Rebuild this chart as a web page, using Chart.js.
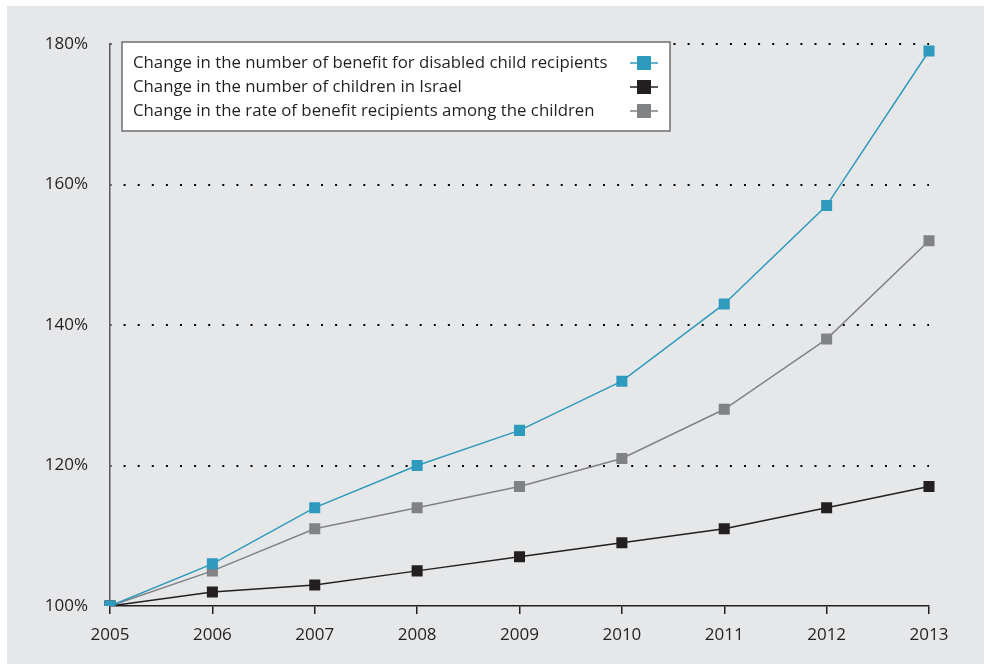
<!DOCTYPE html>
<html>
<head>
<meta charset="utf-8">
<script src="https://cdn.jsdelivr.net/npm/chart.js@4.4.1/dist/chart.umd.min.js"></script>
<style>
    html, body { margin: 0; padding: 0; background: #fff; }
    #wrap { width: 984px; height: 664px; }
</style>
</head>
<body>
<div id="wrap"><canvas id="growthChart" width="984" height="664"></canvas></div>
<script>
const years = ['2005', '2006', '2007', '2008', '2009', '2010', '2011', '2012', '2013'];

// index, 2005 = 100%
const disabledBenefit = [100, 106, 114, 120, 125, 132, 143, 157, 179];
const childrenCount = [100, 102, 103, 105, 107, 109, 111, 114, 117];
const recipientRate = [100, 105, 111, 114, 117, 121, 128, 138, 152];

const yTicks = [100, 120, 140, 160, 180];

const seriesNames = [
    'Change in the number of benefit for disabled child recipients',
    'Change in the number of children in Israel',
    'Change in the rate of benefit recipients among the children'
];

const BLUE = '#2e9abd';
const BLACK = '#231f20';
const GRAY = '#818285';
const FONT = '"Open Sans", "DejaVu Sans", sans-serif';

const panelBackground = {
    id: 'panelBackground',
    beforeDraw(chart) {
        const ctx = chart.ctx;
        ctx.save();
        ctx.fillStyle = '#ffffff';
        ctx.fillRect(0, 0, chart.width, chart.height);
        ctx.fillStyle = '#e6e7e9';
        ctx.fillRect(7, 6, chart.width - 7, chart.height - 6);
        ctx.restore();
    }
};

// legend box with the marker on the right side of each entry
const boxLegend = {
    id: 'boxLegend',
    afterDraw(chart) {
        const ctx = chart.ctx;
        const left = 122, top = 42, right = 670, bottom = 131;
        ctx.save();
        ctx.fillStyle = '#ffffff';
        ctx.fillRect(left, top, right - left, bottom - top);
        ctx.strokeStyle = '#6d6e71';
        ctx.lineWidth = 1.5;
        ctx.strokeRect(left, top, right - left, bottom - top);

        ctx.font = '16.8px ' + FONT;
        ctx.textBaseline = 'middle';
        ctx.textAlign = 'left';
        chart.data.datasets.forEach((ds, i) => {
            const y = 63 + i * 24;
            ctx.fillStyle = BLACK;
            ctx.fillText(ds.label, 133, y);
            ctx.strokeStyle = ds.borderColor;
            ctx.lineWidth = 1.5;
            ctx.beginPath();
            ctx.moveTo(630, y);
            ctx.lineTo(658, y);
            ctx.stroke();
            ctx.fillStyle = ds.pointBackgroundColor;
            ctx.fillRect(637, y - 7, 14, 14);
        });
        ctx.restore();
    }
};

function makeSeries(label, data, color) {
    return {
        label: label,
        data: data,
        borderColor: color,
        backgroundColor: color,
        pointBackgroundColor: color,
        borderWidth: 1.5,
        pointStyle: 'rect',
        pointRadius: 7.8,
        pointBorderWidth: 0,
        tension: 0,
        fill: false
    };
}

const ctx = document.getElementById('growthChart').getContext('2d');
new Chart(ctx, {
    type: 'line',
    data: {
        labels: years,
        datasets: [
            makeSeries(seriesNames[0], disabledBenefit, BLUE),
            makeSeries(seriesNames[1], childrenCount, BLACK),
            makeSeries(seriesNames[2], recipientRate, GRAY)
        ]
    },
    options: {
        responsive: false,
        animation: false,
        layout: { padding: { left: 0, right: 55, top: 44, bottom: 0 } },
        plugins: {
            legend: { display: false },
            tooltip: { enabled: false }
        },
        scales: {
            x: {
                grid: {
                    drawOnChartArea: false,
                    tickLength: 8,
                    color: BLACK,
                    lineWidth: 1.5
                },
                border: { color: BLACK, width: 1.5 },
                ticks: {
                    color: BLACK,
                    padding: 11,
                    font: { family: FONT, size: 17 },
                    maxRotation: 0
                },
                afterFit(scale) { scale.height = 58; }
            },
            y: {
                min: 100,
                max: 180,
                afterBuildTicks(scale) {
                    scale.ticks = yTicks.map(v => ({ value: v }));
                },
                grid: {
                    drawTicks: false,
                    lineWidth: 2,
                    color: c => (c.tick && c.tick.value === 100) ? 'rgba(0,0,0,0)' : '#000000'
                },
                // dotted horizontal grid
                border: { color: '#58595b', width: 1.5, dash: [2, 12.1], dashOffset: 1 },
                ticks: {
                    color: BLACK,
                    padding: 22,
                    font: { family: FONT, size: 17 },
                    callback: v => v + '%'
                },
                afterFit(scale) { scale.width = 110; }
            }
        }
    },
    plugins: [panelBackground, boxLegend]
});
</script>
</body>
</html>
